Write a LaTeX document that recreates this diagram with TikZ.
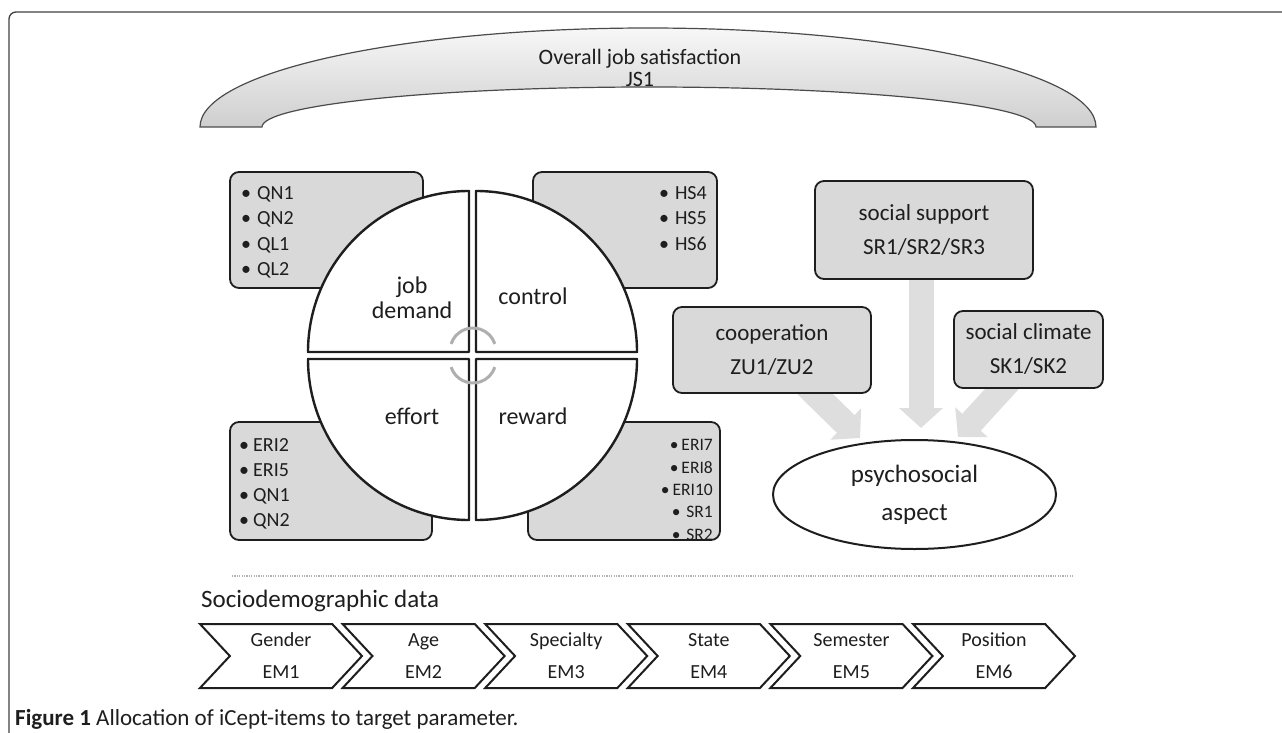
\documentclass[tikz,border=0pt]{standalone}
\usepackage{fontspec}
\setmainfont{Carlito}
\usepackage{xcolor}
\usepackage{tikz}
\usetikzlibrary{positioning, shapes.geometric, shapes.symbols, arrows.meta, backgrounds}
\definecolor{ink}{HTML}{1E1E1E}
\definecolor{boxgray}{HTML}{D9D9D9}
\definecolor{arrowgray}{HTML}{DEDEDE}
\definecolor{ringgray}{HTML}{AFAFAF}
\tikzset{
	frame/.style={draw=ink!85, line width=1.3pt, rounded corners=7pt}, % outer frame
	archfill/.style={draw=ink!80, line width=1.2pt, top color=gray!6, bottom color=gray!38},
	itembox/.style={draw=ink, line width=1.8pt, fill=boxgray, rounded corners=9pt, inner sep=0pt},
	itemtxt/.style={inner sep=0pt, align=left, font=\fontsize{20}{25.3}\selectfont},
	quarter/.style={draw=ink, line width=2.4pt, fill=white, line join=round},
	ring/.style={draw=ringgray, line width=3pt},
	seglabel/.style={inner sep=0pt, align=center, font=\fontsize{24}{25}\selectfont},
	sbox/.style={draw=ink, line width=1.8pt, fill=boxgray, rounded corners=9pt, inner sep=0pt, align=center, font=\fontsize{23}{34}\selectfont},
	bigarrow/.style={draw=arrowgray, line width=25pt, -{Triangle[width=43pt, length=20pt]}},
	chev/.style={signal, signal from=west, signal to=east, signal pointer angle=94, draw=ink, line width=2pt, fill=white, minimum width=162pt, minimum height=64pt, inner sep=0pt, align=center, font=\fontsize{20}{32}\selectfont},
	sepline/.style={draw=gray!60, line width=2.4pt, dash pattern=on 1.2pt off 1.2pt},
}

\begin{document}
\begin{tikzpicture}[x=1pt, y=-1pt, on grid, node distance=142.6pt, every node/.style={text=ink}]
		\useasboundingbox (0,0) rectangle (1282,733);
		\clip (0,0) rectangle (1282,733);
		\draw[frame] (9,12) rectangle (1300,760);
		
		% Overall satisfaction arch
		\draw[archfill] (200,127) arc[start angle=180, end angle=360, x radius=448, y radius=99]
			-- (1036,127) arc[start angle=0, end angle=-180, x radius=387, y radius=40] -- cycle;
		\node[align=center, inner sep=0pt, font=\fontsize{22}{22}\selectfont] (jsat) at (640,68) {Overall job satisfaction\\JS1};
		
		% Item boxes behind the circle
		\node[itembox, minimum width=193pt, minimum height=116pt] (demitems) at (326.5,230) {};
		\node[itembox, minimum width=184pt, minimum height=116pt] (ctrlitems) at (625,230) {};
		\node[itembox, minimum width=202pt, minimum height=118pt] (effitems) at (331,481) {};
		\node[itembox, minimum width=192pt, minimum height=118pt] (rewitems) at (624,481) {};
		\node[itemtxt, anchor=north west] (demlist) at (241,186.5) {\textbullet\hspace{6pt}QN1\\\textbullet\hspace{6pt}QN2\\\textbullet\hspace{6pt}QL1\\\textbullet\hspace{6pt}QL2};
		\node[itemtxt, anchor=north east, align=right] (ctrllist) at (707,186.5) {\textbullet\hspace{6pt}HS4\\\textbullet\hspace{6pt}HS5\\\textbullet\hspace{6pt}HS6};
		\node[itemtxt, anchor=north west, font=\fontsize{20}{25}\selectfont] (efflist) at (239,438.5) {\textbullet\hspace{4pt}ERI2\\\textbullet\hspace{4pt}ERI5\\\textbullet\hspace{4pt}QN1\\\textbullet\hspace{4pt}QN2};
		\node[itemtxt, anchor=north east, align=right, font=\fontsize{17.5}{22.3}\selectfont] (rewlist) at (713,439.4) {\textbullet\,ERI7\\\textbullet\,ERI8\\\textbullet\,ERI10\\\textbullet\,\,SR1\\\textbullet\,\,SR2};
		
		% The four quarters
		\draw[quarter] (469,352) -- (308,352) arc[start angle=180, end angle=270, radius=161] -- cycle;
		\draw[quarter] (476,352) -- (476,191) arc[start angle=270, end angle=360, radius=161] -- cycle;
		\draw[quarter] (469,359) -- (469,520) arc[start angle=90, end angle=180, radius=161] -- cycle;
		\draw[quarter] (476,359) -- (637,359) arc[start angle=0, end angle=90, radius=161] -- cycle;
		\draw[ring] (451.1,343.9) arc[start angle=198, end angle=342, radius=23];
		\draw[ring] (451.1,367.1) arc[start angle=162, end angle=18, radius=23];
		\node[seglabel] (demand) at (412,298) {job\\demand};
		\node[seglabel, anchor=base] (control) at (533,304) {control};
		\node[seglabel, anchor=base] (effort) at (412,424) {effort};
		\node[seglabel, anchor=base] (reward) at (533,424) {reward};
		
		% Psychosocial part
		\node[sbox, minimum width=218pt, minimum height=98pt] (support) at (924,230) {social support\\SR1/SR2/SR3};
		\node[sbox, minimum width=198pt, minimum height=86pt] (coop) at (772,350) {cooperation\\ZU1/ZU2};
		\node[sbox, minimum width=149pt, minimum height=77pt] (climate) at (1028.5,349.5) {social climate\\SK1/SK2};
		\node[ellipse, draw=ink, line width=2pt, fill=white, minimum width=283pt, minimum height=109pt, inner sep=0pt, align=center, font=\fontsize{25}{38}\selectfont] (psy) at (914.5,494.5) {psychosocial\\aspect};
		\coordinate (tipL) at (860,438);
		\coordinate (tipM) at (921,428);
		\coordinate (tipR) at (958,437);
		\begin{scope}[on background layer]
			\draw[bigarrow, shorten <=-20pt] ([xshift=43pt]coop.south) -- (tipL);
			\draw[bigarrow, shorten <=-20pt] ([xshift=-3pt]support.south) -- (tipM);
			\draw[bigarrow, shorten <=-20pt] ([xshift=-26.5pt]climate.south) -- (tipR);
		\end{scope}
		
		% Sociodemographic data
		\draw[sepline] (232,576) -- (1073,576);
		\node[anchor=base west, inner sep=0pt, font=\fontsize{25}{30}\selectfont] (sociodem) at (201,607) {Sociodemographic data};
		\node[chev] (gender) at (281,656) {Gender\\EM1};
		\node[chev, right=of gender] (age) {Age\\EM2};
		\node[chev, right=of age] (spec) {Specialty\\EM3};
		\node[chev, right=of spec] (state) {State\\EM4};
		\node[chev, right=of state] (sem) {Semester\\EM5};
		\node[chev, right=of sem] (pos) {Position\\EM6};
		
		% Caption
		\node[anchor=base west, inner sep=0pt, font=\fontsize{23}{28}\selectfont] (caption) at (15,725) {\textbf{Figure 1} Allocation of iCept-items to target parameter.};
	\end{tikzpicture}
\end{document}
